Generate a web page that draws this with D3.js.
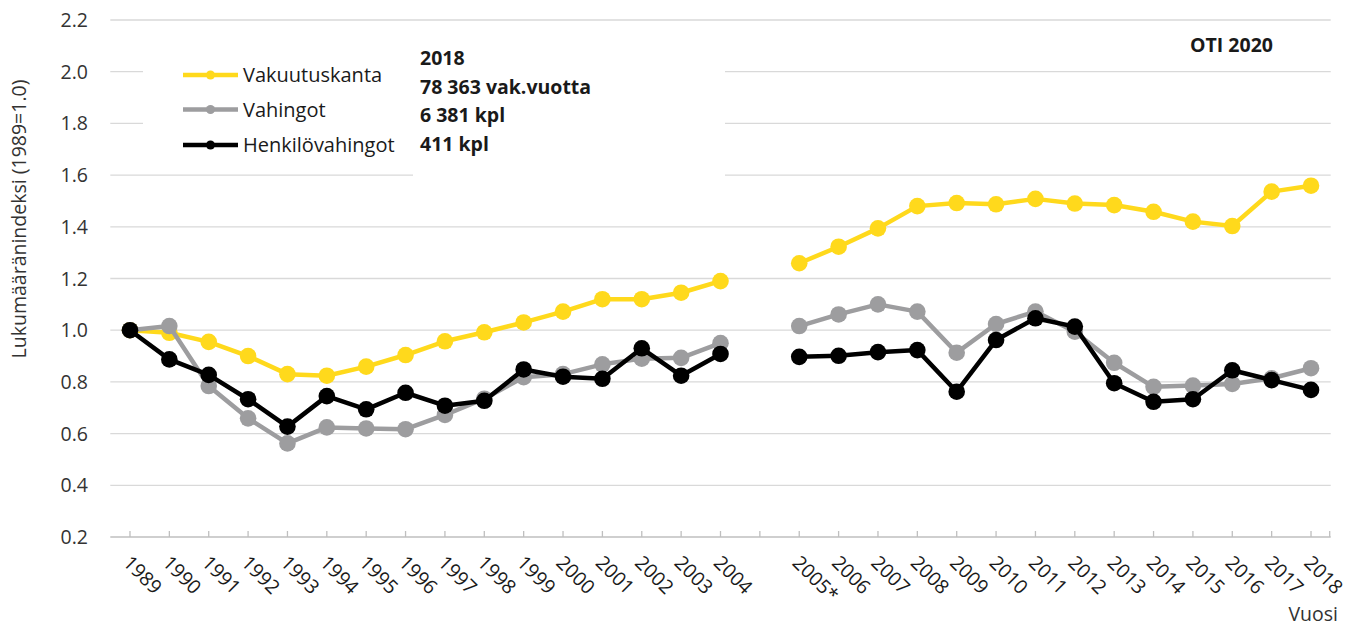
<!DOCTYPE html>
<html>
<head>
<meta charset="utf-8">
<script src="https://cdn.jsdelivr.net/npm/d3@7/dist/d3.min.js"></script>
<style>
  html, body { margin: 0; padding: 0; background: #fff; }
  svg { display: block; font-family: "Open Sans", "Noto Sans", sans-serif; }
</style>
</head>
<body>
<svg id="chart" width="1361" height="629"></svg>
<script>
// Categories: an empty slot separates the two series periods (break at 2005*)
const years = ["1989","1990","1991","1992","1993","1994","1995","1996","1997","1998",
  "1999","2000","2001","2002","2003","2004","","2005*","2006","2007","2008","2009",
  "2010","2011","2012","2013","2014","2015","2016","2017","2018"];

const vakuutuskanta = [1.00,0.99,0.955,0.90,0.83,0.824,0.859,0.904,0.957,0.992,
  1.03,1.072,1.12,1.12,1.145,1.19,null,1.259,1.323,1.394,1.48,1.492,
  1.487,1.508,1.49,1.484,1.458,1.42,1.403,1.536,1.559];

const vahingot = [1.00,1.016,0.784,0.659,0.562,0.624,0.62,0.617,0.672,0.735,
  0.818,0.83,0.868,0.89,0.893,0.95,null,1.016,1.061,1.10,1.072,0.913,
  1.024,1.072,0.994,0.874,0.781,0.786,0.792,0.814,0.853];

const henkilovahingot = [1.00,0.887,0.827,0.733,0.627,0.745,0.694,0.758,0.708,0.727,
  0.848,0.82,0.812,0.93,0.824,0.908,null,0.897,0.901,0.915,0.923,0.762,
  0.962,1.046,1.014,0.795,0.723,0.733,0.845,0.807,0.769];

const yTicks = [0.2,0.4,0.6,0.8,1.0,1.2,1.4,1.6,1.8,2.0,2.2];

const seriesNames = ["Vakuutuskanta","Vahingot","Henkilövahingot"];
const seriesColors = ["#ffd91c","#9d9d9f","#000000"];
const seriesValues = [vakuutuskanta, vahingot, henkilovahingot];

const noteLines = ["2018","78 363 vak.vuotta","6 381 kpl","411 kpl"];

const svg = d3.select("#chart");
const plot = { left: 110.3, right: 1330.7, top: 20, bottom: 537 };

const x = d3.scaleBand().domain(d3.range(years.length))
  .range([plot.left, plot.right]).padding(0);
const cx = i => x(i) + x.bandwidth() / 2;
const y = d3.scaleLinear().domain([0.2, 2.2]).range([plot.bottom, plot.top]);

// horizontal gridlines
svg.append("g").selectAll("line").data(yTicks.filter(t => t > 0.2)).join("line")
  .attr("x1", plot.left).attr("x2", plot.right)
  .attr("y1", d => y(d)).attr("y2", d => y(d))
  .attr("stroke", "#d9d9d9").attr("stroke-width", 1.3);

// y tick labels
svg.append("g").selectAll("text").data(yTicks).join("text")
  .attr("x", 88).attr("y", d => y(d)).attr("dy", "0.36em")
  .attr("text-anchor", "end").attr("font-size", 19.5).attr("fill", "#333")
  .text(d => d.toFixed(1));

// y axis title
svg.append("text")
  .attr("transform", "translate(26,219) rotate(-90)")
  .attr("text-anchor", "middle").attr("font-size", 19.5).attr("fill", "#333")
  .text("Lukumääränindeksi (1989=1.0)");

// x axis line with ticks at category centres
const xa = svg.append("g");
xa.append("line").attr("x1", plot.left).attr("x2", plot.right)
  .attr("y1", plot.bottom).attr("y2", plot.bottom)
  .attr("stroke", "#bfbfbf").attr("stroke-width", 1.3);
xa.selectAll("line.tick").data(d3.range(years.length)).join("line")
  .attr("class", "tick")
  .attr("x1", i => cx(i)).attr("x2", i => cx(i))
  .attr("y1", plot.bottom - 6).attr("y2", plot.bottom)
  .attr("stroke", "#bfbfbf").attr("stroke-width", 1.3);
xa.append("line").attr("x1", plot.right - 1).attr("x2", plot.right - 1)
  .attr("y1", plot.bottom - 6).attr("y2", plot.bottom)
  .attr("stroke", "#bfbfbf").attr("stroke-width", 1.3);

// rotated year labels
xa.selectAll("text").data(years).join("text")
  .attr("transform", (d, i) => `translate(${cx(i) + 2},${plot.bottom + 17}) rotate(45)`)
  .attr("dy", "0.72em")
  .attr("font-size", 19.5).attr("fill", "#1a1a1a")
  .text(d => d);

svg.append("text").attr("x", 1338).attr("y", 621)
  .attr("text-anchor", "end").attr("font-size", 19.5).attr("fill", "#333")
  .text("Vuosi");

// series lines and markers (yellow below, black on top)
const line = d3.line()
  .defined(d => d != null)
  .x((d, i) => cx(i)).y(d => y(d));

seriesValues.forEach((vals, k) => {
  const g = svg.append("g");
  g.append("path").datum(vals)
    .attr("d", line).attr("fill", "none")
    .attr("stroke", seriesColors[k]).attr("stroke-width", 4.5)
    .attr("stroke-linejoin", "round");
  g.selectAll("circle").data(vals.map((v, i) => ({ v, i })).filter(d => d.v != null))
    .join("circle")
    .attr("cx", d => cx(d.i)).attr("cy", d => y(d.v)).attr("r", 8.3)
    .attr("fill", seriesColors[k]);
});

// legend box
svg.append("rect").attr("x", 143).attr("y", 28).attr("width", 270).attr("height", 138)
  .attr("fill", "#fff");
// note box
svg.append("rect").attr("x", 413).attr("y", 24).attr("width", 312).attr("height", 158)
  .attr("fill", "#fff");

const legendY = [75, 109.5, 145];
const lg = svg.append("g");
seriesNames.forEach((name, k) => {
  lg.append("line").attr("x1", 183).attr("x2", 238)
    .attr("y1", legendY[k]).attr("y2", legendY[k])
    .attr("stroke", seriesColors[k]).attr("stroke-width", 4.5);
  lg.append("circle").attr("cx", 210.5).attr("cy", legendY[k]).attr("r", 4.5)
    .attr("fill", seriesColors[k]);
  lg.append("text").attr("x", 243).attr("y", legendY[k]).attr("dy", "0.36em")
    .attr("font-size", 20).attr("fill", "#1a1a1a").text(name);
});

const noteY = [57.5, 86.5, 114.5, 143.5];
svg.append("g").selectAll("text").data(noteLines).join("text")
  .attr("x", 420).attr("y", (d, i) => noteY[i]).attr("dy", "0.36em")
  .attr("font-size", 19.5).attr("font-weight", "bold").attr("fill", "#1a1a1a")
  .text(d => d);

svg.append("text").attr("x", 1190).attr("y", 45).attr("dy", "0.36em")
  .attr("font-size", 19.5).attr("font-weight", "bold").attr("fill", "#1a1a1a")
  .text("OTI 2020");
</script>
</body>
</html>
